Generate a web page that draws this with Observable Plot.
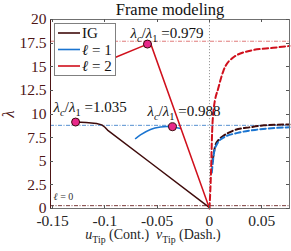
<!DOCTYPE html>
<html><head><meta charset="utf-8">
<script src="https://cdn.jsdelivr.net/npm/d3@7"></script>
<script src="https://cdn.jsdelivr.net/npm/@observablehq/plot@0.6"></script>
<style>body{margin:0;background:#fff}svg{font-family:"Liberation Serif",serif}</style>
</head><body><div id="chart"></div>
<script>
// ---- data ----
const igContU = [-0.128, -0.118, -0.108, -0.103, -0.100, -0.0975, -0.0564, 0.0];
const igContL = [9.15, 9.10, 9.00, 8.85, 8.60, 8.30, 4.84, 0.1];
const igDashU = [0.003, 0.0045, 0.0057, 0.0090, 0.0134, 0.023, 0.039, 0.052, 0.0765];
const igDashL = [5.0, 6.1, 6.7, 7.3, 7.7, 8.25, 8.6, 8.8, 8.9];
const l1ContU = [-0.0707, -0.066, -0.0564, -0.0468, -0.041, -0.0354, -0.0277];
const l1ContL = [7.4, 7.78, 8.36, 8.62, 8.68, 8.62, 8.47];
const l1DashU = [0.0022, 0.0029, 0.0045, 0.0076, 0.0134, 0.027, 0.046, 0.0765];
const l1DashL = [3.8, 4.6, 6.0, 6.9, 7.5, 8.0, 8.35, 8.6];
const l2ContU = [-0.092, -0.0593, -0.0564, 0.0];
const l2ContL = [15.9, 17.4, 17.5, 0.0];
const l2DashU = [0.0, 0.0015, 0.0025, 0.004, 0.0086, 0.0134, 0.023, 0.039, 0.061, 0.0765];
const l2DashL = [0.0, 4.0, 8.0, 10.5, 12.8, 14.6, 16.0, 16.7, 17.0, 17.2];
const critU = [-0.128, -0.0593, -0.0354];
const critL = [9.15, 17.4, 8.65];
const critText = ["*λ_c*/*λ*_1 =1.035", "*λ_c*/*λ*_1 =0.979", "*λ_c*/*λ*_1 =0.988"];
const refL = [17.7, 8.8, 0.3];
const xTicks = [-0.15, -0.1, -0.05, 0, 0.05];
const yTicks = [0, 2.5, 5, 7.5, 10, 12.5, 15, 17.5, 20];
const legendLabels = ["IG", "*ℓ* = 1", "*ℓ* = 2"];
const xLabel = "*u*_{Tip} (Cont.)  *v*_{Tip} (Dash.)";

// ---- styles ----
const C_IG = "#3f0b0b", C_L1 = "#1a74d0", C_L2 = "#d0101c";
const refColors = ["#e07a7a", "#5590d0", "#7a3a3a"];
const annDx = [-22, -17, -25], annDy = [-15, -11, -16];

const zip = (u, l) => u.map((d, i) => ({u: d, l: l[i]}));
const crit = critU.map((u, i) => ({u, l: critL[i], t: critText[i]}));
const refs = refL.map((l, i) => ({l, c: refColors[i]}));

const annMarks = crit.map((d, i) => Plot.text([d], {x: "u", y: "l", text: "t", dx: annDx[i], dy: annDy[i],
  textAnchor: "start", lineAnchor: "middle", fontSize: 15, fill: "#111"}));

const plot = Plot.plot({
  width: 291, height: 251,
  marginLeft: 50, marginRight: 2, marginTop: 19, marginBottom: 43,
  style: {fontFamily: "Liberation Serif", fontSize: "15px", background: "#fff", overflow: "visible"},
  x: {domain: [-0.152, 0.0765]},
  y: {domain: [0, 20]},
  marks: [
    Plot.ruleX([0], {stroke: "#9a9a9a", strokeDasharray: "1.2,1.8", strokeWidth: 1}),
    Plot.ruleY(refs, {y: "l", stroke: "c", strokeDasharray: "4,1.5,1,1.5", strokeWidth: 1}),
    Plot.line(zip(igContU, igContL), {x: "u", y: "l", stroke: C_IG, strokeWidth: 1.5}),
    Plot.line(zip(l1ContU, l1ContL), {x: "u", y: "l", stroke: C_L1, strokeWidth: 1.5, curve: "monotone-x"}),
    Plot.line(zip(l2ContU, l2ContL), {x: "u", y: "l", stroke: C_L2, strokeWidth: 1.5}),
    Plot.line(zip(igDashU, igDashL), {x: "u", y: "l", stroke: C_IG, strokeWidth: 2, strokeDasharray: "5.5,3", curve: "monotone-x"}),
    Plot.line(zip(l1DashU, l1DashL), {x: "u", y: "l", stroke: C_L1, strokeWidth: 2, strokeDasharray: "5.5,3", curve: "monotone-x"}),
    Plot.line(zip(l2DashU, l2DashL), {x: "u", y: "l", stroke: C_L2, strokeWidth: 2, strokeDasharray: "5.5,3", curve: "monotone-x"}),
    Plot.dot(crit, {x: "u", y: "l", r: 4, fill: "#e8288a", stroke: "#3a0a0a", strokeWidth: 1}),
    ...annMarks,
    Plot.text([refs[2]], {x: () => -0.152, y: "l", text: () => "*ℓ* = 0", dx: 3, dy: -9, textAnchor: "start", lineAnchor: "middle", fontSize: 10, fill: "#333"}),
    Plot.frame({stroke: "#707070"}),
    Plot.ruleX([-0.152], {stroke: "#4d1515"}),
    Plot.axisX({ticks: xTicks, tickFormat: d => String(d), tickSize: 0, tickPadding: 6, fontSize: 15.5, fill: "#262626", label: null}),
    Plot.axisY({ticks: yTicks, tickFormat: d => String(d), tickSize: 0, tickPadding: 4, fontSize: 15.5, fill: "#4d1515", label: null}),
    Plot.text(["Frame modeling"], {frameAnchor: "top", dy: -9.5, lineAnchor: "middle", textAnchor: "middle", fontSize: 16.5, fill: "#111"}),
    Plot.text([xLabel], {x: () => -0.054, frameAnchor: "bottom", dy: 26.5, lineAnchor: "middle", textAnchor: "middle", fontSize: 14, fill: "#262626"}),
    Plot.text(["*λ*"], {frameAnchor: "left", dx: -42, rotate: -90, lineAnchor: "middle", textAnchor: "middle", fontSize: 17, fill: "#4d1515"})
  ]
});
document.getElementById("chart").appendChild(plot);

const svg = d3.select(plot);
const xs = plot.scale("x"), ys = plot.scale("y");
const X0 = xs.range[0], X1 = xs.range[1], Y0 = ys.range[0], Y1 = ys.range[1];
const tk = svg.append("g").attr("stroke", "#555").attr("stroke-width", 1);
xTicks.forEach(v => {
  const x = Math.round(xs.apply(v)) + 0.5;
  tk.append("line").attr("x1", x).attr("x2", x).attr("y1", Y0).attr("y2", Y0 - 3);
  tk.append("line").attr("x1", x).attr("x2", x).attr("y1", Y1).attr("y2", Y1 + 3);
});
yTicks.forEach(v => {
  const y = Math.round(ys.apply(v)) + 0.5;
  tk.append("line").attr("x1", X0).attr("x2", X0 + 3).attr("y1", y).attr("y2", y);
  tk.append("line").attr("x1", X1).attr("x2", X1 - 3).attr("y1", y).attr("y2", y);
});

// legend
const lg = svg.append("g").attr("text-anchor", "start");
lg.append("rect").attr("x", 54.5).attr("y", 23.5).attr("width", 61).attr("height", 52)
  .attr("fill", "#fff").attr("stroke", "#808080");
[C_IG, C_L1, C_L2].forEach((c, i) => {
  const y = 33 + 16.5 * i;
  lg.append("line").attr("x1", 58).attr("x2", 80).attr("y1", y).attr("y2", y).attr("stroke", c).attr("stroke-width", 1.6);
  lg.append("text").attr("x", 82).attr("y", y).attr("dy", "0.35em").attr("font-size", 15).attr("fill", "#111").text(legendLabels[i]);
});

// rich text: *italic*, _x / _{xyz} subscripts
function rich(el) {
  const s = el.textContent;
  if (!/[_*]/.test(s)) return;
  const fs = parseFloat(getComputedStyle(el).fontSize) || 14;
  const parts = [];
  let i = 0, it = false, buf = "";
  const flush = () => { if (buf) parts.push({t: buf, it, sub: false}); buf = ""; };
  while (i < s.length) {
    const ch = s[i];
    if (ch === "*") { flush(); it = !it; i++; }
    else if (ch === "_") {
      flush(); let t;
      if (s[i + 1] === "{") { const j = s.indexOf("}", i); t = s.slice(i + 2, j); i = j + 1; }
      else { t = s[i + 1]; i += 2; }
      parts.push({t, it, sub: true});
    } else { buf += ch; i++; }
  }
  flush();
  while (el.firstChild) el.removeChild(el.firstChild);
  let shift = 0;
  const sh = fs * 0.28;
  parts.forEach(p => {
    const ts = document.createElementNS("http://www.w3.org/2000/svg", "tspan");
    const target = p.sub ? sh : 0;
    if (target !== shift) { ts.setAttribute("dy", target - shift); shift = target; }
    if (p.it) ts.setAttribute("font-style", "italic");
    if (p.sub) ts.setAttribute("font-size", fs * 0.7);
    ts.textContent = p.t;
    el.appendChild(ts);
  });
  el.style.whiteSpace = "pre";
}
plot.querySelectorAll("text").forEach(rich);
</script></body></html>
